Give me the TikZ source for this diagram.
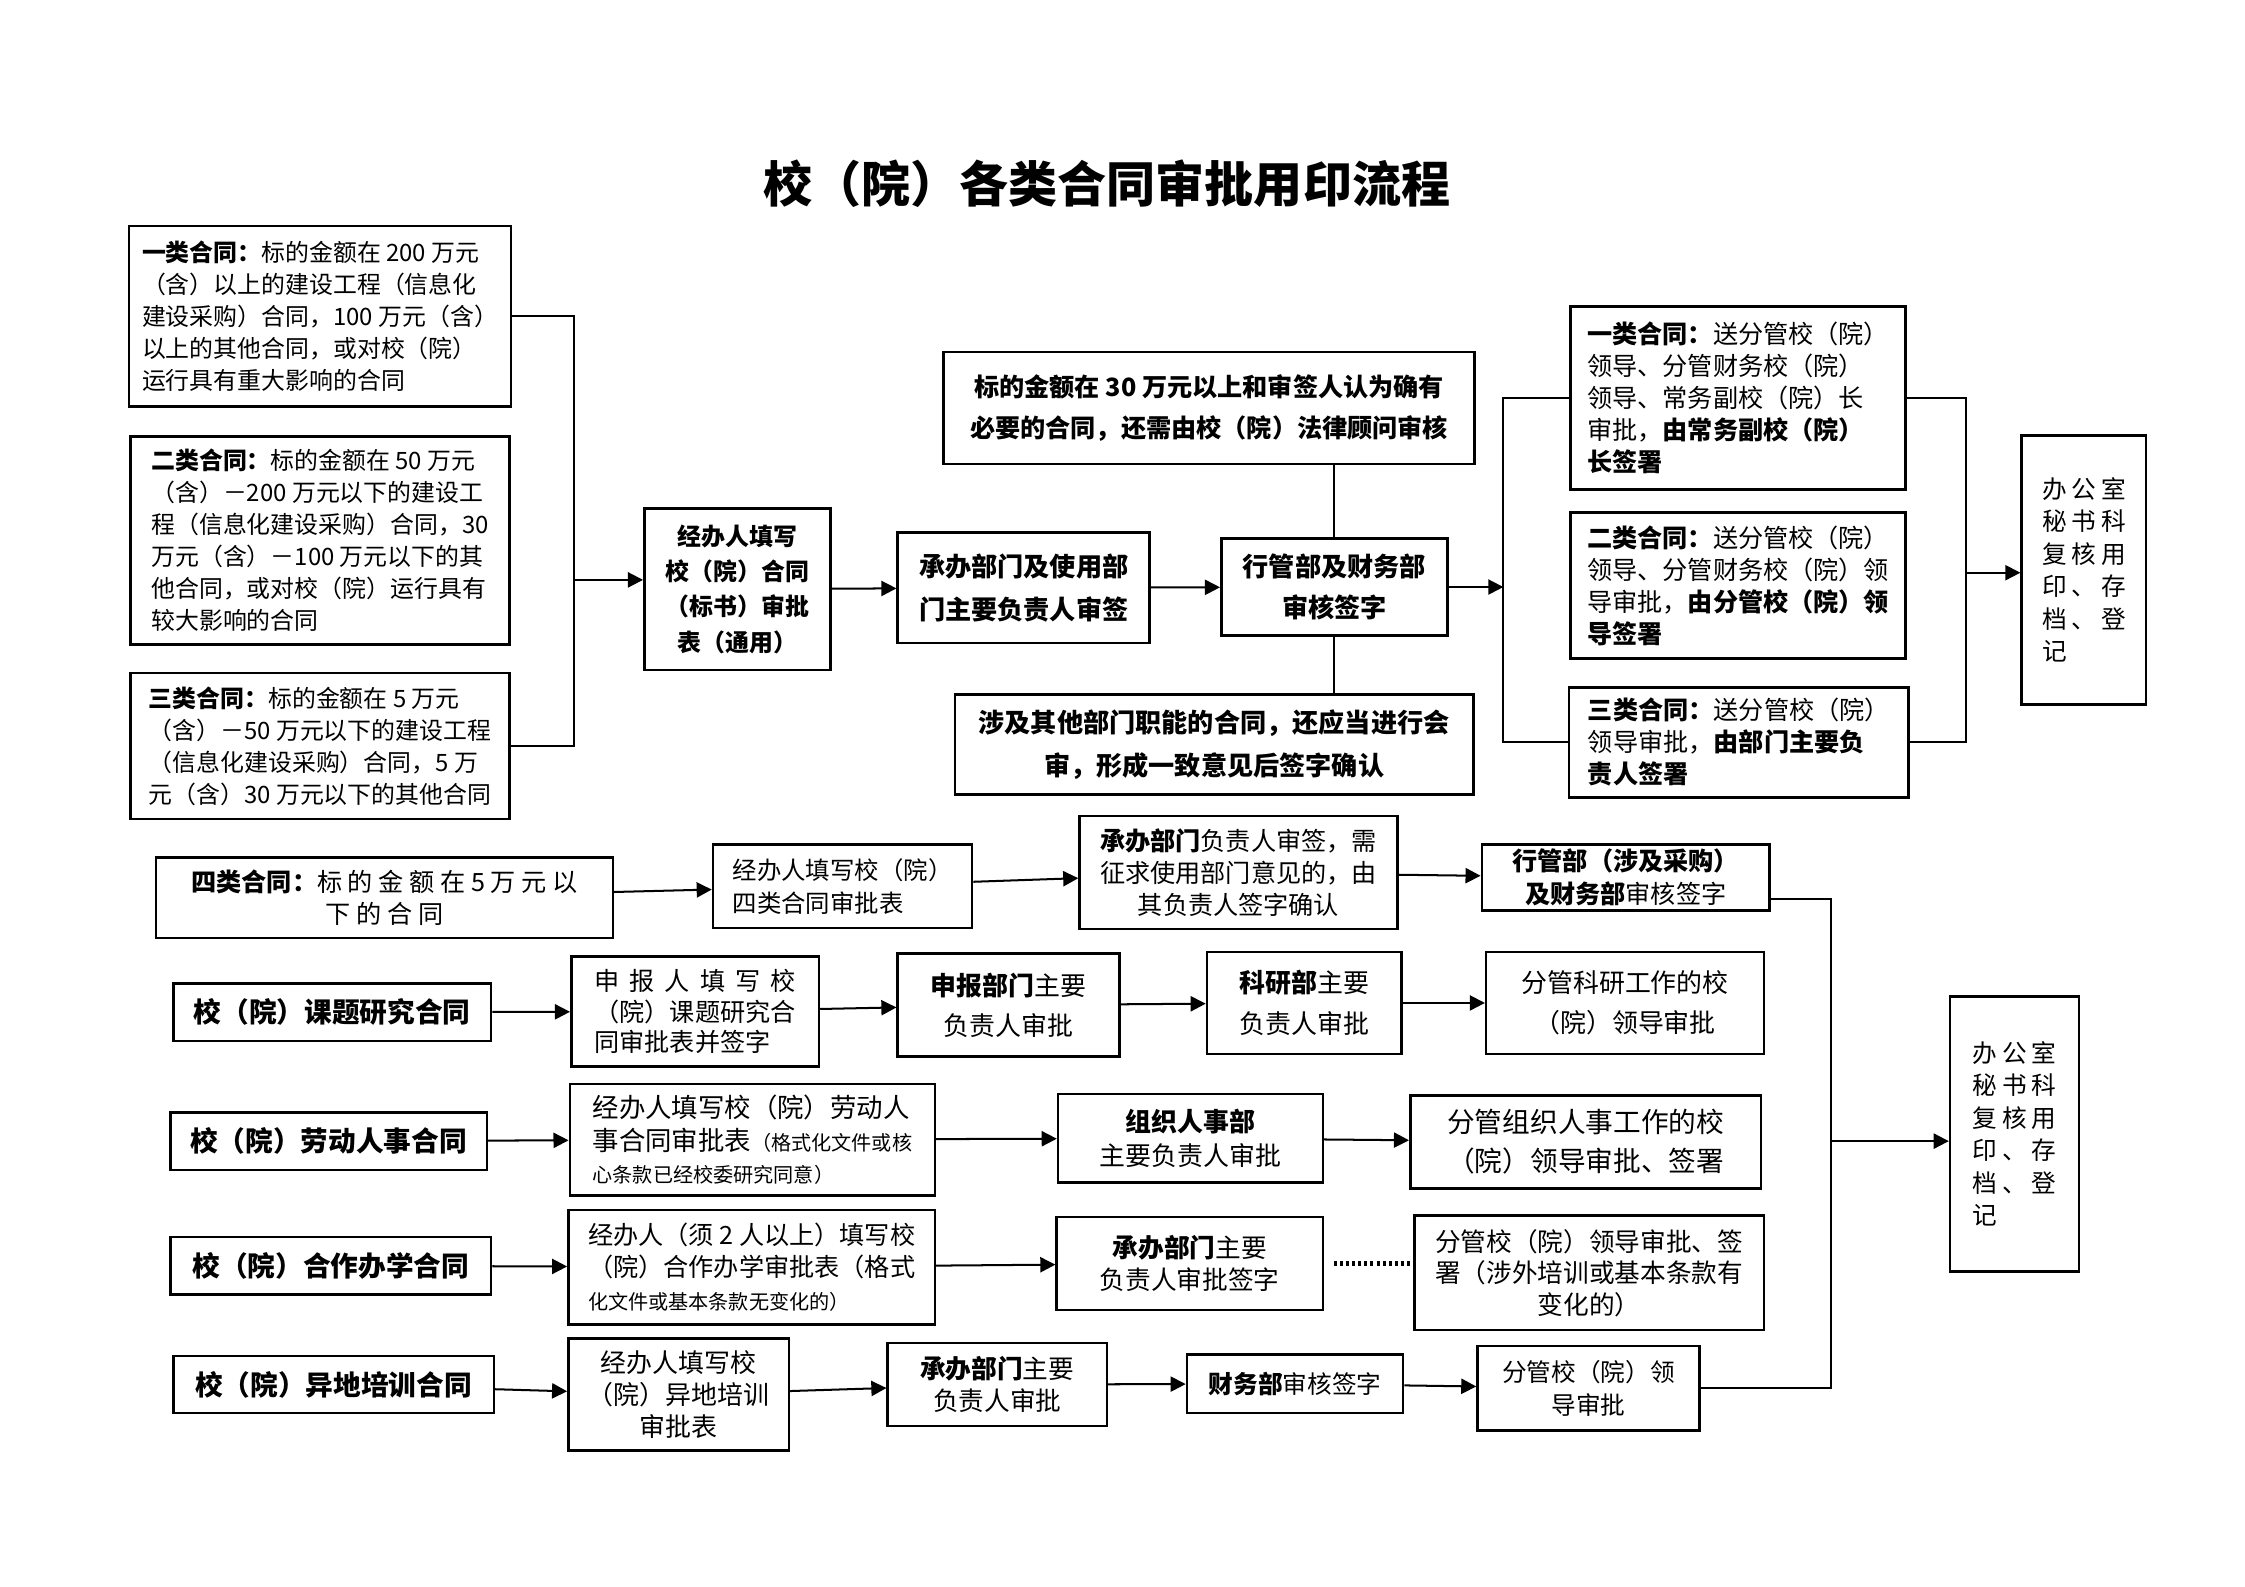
\documentclass[tikz,border=0pt]{standalone}
\usepackage{fontspec}
\setmainfont{Noto Sans CJK SC}
\usetikzlibrary{positioning, arrows.meta}
\newcommand{\sanzi}[3]{\makebox[3.4em][s]{#1\hfill#2\hfill#3}}
\tikzset{
  box/.style={draw, line width=1pt, inner sep=0pt, align=center, font=\fontsize{10pt}{13pt}\selectfont},
  wh/.style 2 args={minimum width=#1*0.2mm, minimum height=#2*0.2mm},
  para/.style={align=left, font=\fontsize{9.5pt}{12.7pt}\selectfont},
  kind/.style={font=\bfseries\fontsize{11pt}{13pt}\selectfont},
  arr/.style={line width=0.8pt, -{Triangle[length=6pt,width=6pt]}},
  ln/.style={line width=0.8pt},
}

\begin{document}
\begin{tikzpicture}[x=0.2mm, y=-0.2mm]
        \useasboundingbox (0,0) rectangle (1568,1108);
        \node[font=\bfseries\fontsize{19.5pt}{23pt}\selectfont] (title) at (773,128) {校（院）各类合同审批用印流程};
        %
        \node[box, para, wh={267}{126}] (a1) at (223.5,221) {\textbf{一类合同：}标的金额在 200 万元\\（含）以上的建设工程（信息化\\建设采购）合同，100 万元（含）\\以上的其他合同，或对校（院）\\运行具有重大影响的合同};
        \node[box, para, wh={265}{145}] (a2) at (223.5,377.5) {\textbf{二类合同：}标的金额在 50 万元\\（含）－200 万元以下的建设工\\程（信息化建设采购）合同，30\\万元（含）－100 万元以下的其\\他合同，或对校（院）运行具有\\较大影响的合同};
        \node[box, para, wh={265}{102}] (a3) at (223.5,521) {\textbf{三类合同：}标的金额在 5 万元\\（含）－50 万元以下的建设工程\\（信息化建设采购）合同，5 万\\元（含）30 万元以下的其他合同};
        \node[box, wh={130}{113}, font=\bfseries\fontsize{9.5pt}{14pt}\selectfont] (b1) at (515,411.5) {经办人填写\\校（院）合同\\（标书）审批\\表（通用）};
        \node[box, wh={176}{77}, font=\bfseries\fontsize{10.4pt}{17pt}\selectfont] (b2) at (715,410.5) {承办部门及使用部\\门主要负责人审签};
        \node[box, wh={158}{68}, font=\bfseries\fontsize{10.4pt}{16.5pt}\selectfont] (b3) at (932,410) {行管部及财务部\\审核签字};
        \node[box, wh={371}{78}, font=\bfseries\fontsize{10pt}{16.5pt}\selectfont] (t1) at (844.5,285) {标的金额在 30 万元以上和审签人认为确有\\必要的合同，还需由校（院）法律顾问审核};
        \node[box, wh={362}{70}, font=\bfseries\fontsize{10.4pt}{17pt}\selectfont] (t2) at (848,520) {涉及其他部门职能的合同，还应当进行会\\审，形成一致意见后签字确认};
        \node[box, para, wh={234}{128}, font=\fontsize{10pt}{12.7pt}\selectfont] (c1) at (1214,278) {\textbf{一类合同：}送分管校（院）\\领导、分管财务校（院）\\领导、常务副校（院）长\\审批，\textbf{由常务副校（院）}\\\textbf{长签署}};
        \node[box, para, wh={234}{102}, font=\fontsize{10pt}{12.7pt}\selectfont] (c2) at (1214,409) {\textbf{二类合同：}送分管校（院）\\领导、分管财务校（院）领\\导审批，\textbf{由分管校（院）领}\\\textbf{导签署}};
        \node[box, para, wh={237}{77}, font=\fontsize{10pt}{12.7pt}\selectfont] (c3) at (1214.5,518.5) {\textbf{三类合同：}送分管校（院）\\领导审批，\textbf{由部门主要负}\\\textbf{责人签署}};
        \node[box, para, wh={87}{188}, font=\fontsize{9.8pt}{12.9pt}\selectfont] (d1) at (1455.5,398) {\sanzi{办}{公}{室}\\\sanzi{秘}{书}{科}\\\sanzi{复}{核}{用}\\\sanzi{印}{、}{存}\\\sanzi{档}{、}{登}\\记};
        %
        \draw[ln] (a1.east) -| (401,405) coordinate (lbus);
        \draw[ln] (a3.east) -| (lbus);
        \draw[arr] (lbus) -- (lbus -| b1.west);
        \draw[arr] (b1) -- (b2);
        \draw[arr] (b2) -- (b3);
        \draw[ln] (b3.north) -- (b3.north |- t1.south);
        \draw[ln] (b3.south) -- (b3.south |- t2.north);
        \coordinate (rbus) at (1050,410);
        \draw[arr] (b3.east) -- (rbus);
        \draw[ln] (c1.west) -| (rbus);
        \draw[ln] (c3.west) -| (rbus);
        \coordinate (rbus2) at (1373,400);
        \draw[ln] (c1.east) -| (rbus2);
        \draw[ln] (c3.east) -| (rbus2);
        \draw[arr] (rbus2) -- (rbus2 -| d1.west);
        %
        \node[box, wh={319}{56}, font=\fontsize{10pt}{12.5pt}\selectfont] (e1) at (268.5,627) {\textbf{四类合同：}标 的 金 额 在 5 万 元 以\\下 的 合 同};
        \node[box, wh={181}{58}, align=left, font=\fontsize{9.7pt}{13pt}\selectfont] (e2) at (588.5,619) {经办人填写校（院）\\四类合同审批表};
        \node[box, wh={222}{79}, font=\fontsize{10pt}{12.6pt}\selectfont] (e3) at (865,609.5) {\textbf{承办部门}负责人审签，需\\征求使用部门意见的，由\\其负责人签字确认};
        \node[box, wh={201}{46}] (e4) at (1135.5,613) {\textbf{行管部（涉及采购）}\\\textbf{及财务部}审核签字};
        \node[box, para, wh={90}{192}, font=\fontsize{9.8pt}{12.9pt}\selectfont] (f) at (1407,792) {\sanzi{办}{公}{室}\\\sanzi{秘}{书}{科}\\\sanzi{复}{核}{用}\\\sanzi{印}{、}{存}\\\sanzi{档}{、}{登}\\记};
        \draw[arr] (e1) -- (e2);
        \draw[arr] (e2) -- (e3);
        \draw[arr] (e3) -- (e4);
        %
        \node[box, kind, wh={222}{40}] (g1) at (232,707) {校（院）课题研究合同};
        \node[box, wh={173}{77}, align=left, font=\fontsize{10pt}{12pt}\selectfont] (g2) at (485.5,706.5) {\makebox[8em][s]{申\hfill 报\hfill 人\hfill 填\hfill 写\hfill 校}\\（院）课题研究合\\同审批表并签字};
        \node[box, wh={155}{72}, font=\fontsize{10.3pt}{16pt}\selectfont] (g3) at (704.5,702) {\textbf{申报部门}主要\\负责人审批};
        \node[box, wh={136}{71}, font=\fontsize{10.3pt}{16pt}\selectfont] (g4) at (911,700.5) {\textbf{科研部}主要\\负责人审批};
        \node[box, wh={194}{71}, font=\fontsize{10.3pt}{16pt}\selectfont] (g5) at (1135,700.5) {分管科研工作的校\\（院）领导审批};
        \draw[arr] (g1) -- (g2);
        \draw[arr] (g2) -- (g3);
        \draw[arr] (g3) -- (g4);
        \draw[arr] (g4) -- (g5);
        %
        \node[box, kind, wh={221}{40}] (h1) at (229.5,797) {校（院）劳动人事合同};
        \node[box, wh={255}{78}, align=left, font=\fontsize{10.5pt}{12.9pt}\selectfont] (h2) at (525.5,796) {经办人填写校（院）劳动人\\事合同审批表{\fontsize{8pt}{10pt}\selectfont（格式化文件或核}\\{\fontsize{8pt}{10pt}\selectfont 心条款已经校委研究同意）}};
        \node[box, wh={185}{62}, font=\fontsize{10.3pt}{13.7pt}\selectfont] (h3) at (831.5,795) {\textbf{组织人事部}\\主要负责人审批};
        \node[box, wh={245}{65}, font=\fontsize{11pt}{15.4pt}\selectfont] (h4) at (1107.5,797.5) {分管组织人事工作的校\\（院）领导审批、签署};
        \draw[arr] (h1) -- (h2);
        \draw[arr] (h2) -- (h3);
        \draw[arr] (h3) -- (h4);
        %
        \node[box, kind, wh={224}{40}] (i1) at (231,884) {校（院）合作办学合同};
        \node[box, wh={256}{80}, align=left, font=\fontsize{10pt}{13pt}\selectfont] (i2) at (525,885) {经办人（须 2 人以上）填写校\\（院）合作办学审批表（格式\\{\fontsize{8pt}{10pt}\selectfont 化文件或基本条款无变化的）}};
        \node[box, wh={186}{65}, font=\fontsize{10.2pt}{13pt}\selectfont] (i3) at (831,882.5) {\textbf{承办部门}主要\\负责人审批签字};
        \node[box, wh={244}{80}, font=\fontsize{10.2pt}{12.5pt}\selectfont] (i4) at (1110,889) {分管校（院）领导审批、签\\署（涉外培训或基本条款有\\变化的）};
        \draw[arr] (i1) -- (i2);
        \draw[arr] (i2) -- (i3);
        \draw[line width=2.2pt, dash pattern=on 1.2pt off 1.2pt, shorten <=1.4mm] (i3.east) -- (i3.east -| i4.west);
        %
        \node[box, kind, wh={224}{40}] (j1) at (233,967) {校（院）异地培训合同};
        \node[box, wh={154}{78}, font=\fontsize{10.3pt}{12.8pt}\selectfont] (j2) at (474,974) {经办人填写校\\（院）异地培训\\审批表};
        \node[box, wh={153}{58}, font=\fontsize{10.2pt}{13pt}\selectfont] (j3) at (696.5,967) {\textbf{承办部门}主要\\负责人审批};
        \node[box, wh={151}{41}, font=\fontsize{9.8pt}{12pt}\selectfont] (j4) at (904.5,966.5) {\textbf{财务部}审核签字};
        \node[box, wh={155}{59}, font=\fontsize{9.8pt}{13pt}\selectfont] (j5) at (1109.5,969.5) {分管校（院）领\\导审批};
        \draw[arr] (j1) -- (j2);
        \draw[arr] (j2) -- (j3);
        \draw[arr] (j3) -- (j4);
        \draw[arr] (j4) -- (j5);
        %
        \coordinate (fbus) at (1279,797);
        \draw[ln] ([yshift=-0.3cm]e4.east) -| (fbus);
        \draw[ln] (j5.east) -| (fbus);
        \draw[arr] (fbus) -- (fbus -| f.west);
    \end{tikzpicture}
\end{document}
